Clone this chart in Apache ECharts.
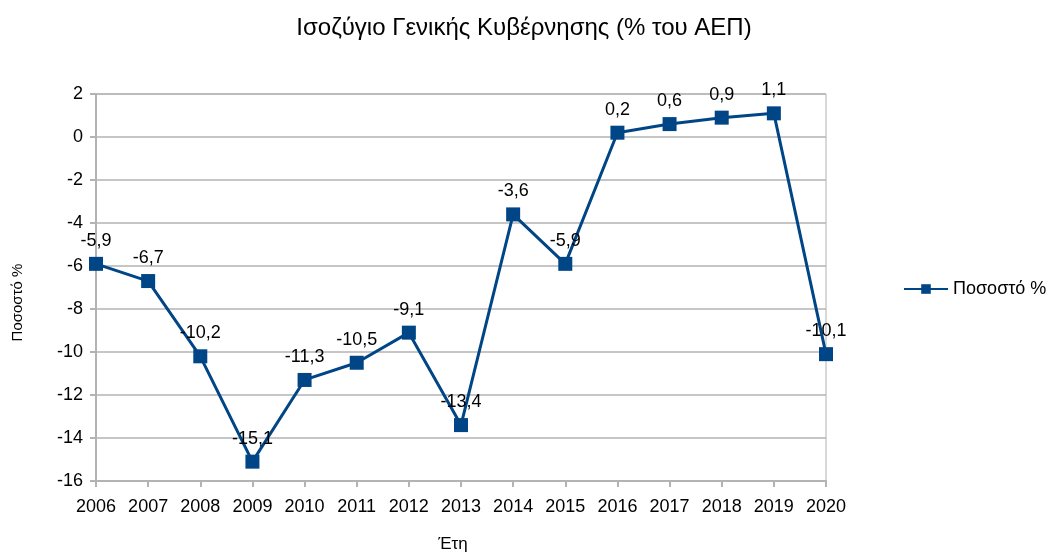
<!DOCTYPE html>
<html>
<head>
<meta charset="utf-8">
<script src="https://cdn.jsdelivr.net/npm/echarts@6/dist/echarts.min.js"></script>
<style>
  html, body { margin: 0; padding: 0; background: #fff; }
  #chart { width: 1050px; height: 556px; }
</style>
</head>
<body>
<div id="chart"></div>
<script>
var years = ['2006','2007','2008','2009','2010','2011','2012','2013','2014','2015','2016','2017','2018','2019','2020'];
var balance = [-5.9, -6.7, -10.2, -15.1, -11.3, -10.5, -9.1, -13.4, -3.6, -5.9, 0.2, 0.6, 0.9, 1.1, -10.1];
var seriesName = 'Ποσοστό %';

var font = '"Liberation Sans", Arial, sans-serif';
var gridColor = '#b3b3b3';

var myChart = echarts.init(document.getElementById('chart'));

myChart.setOption({
    animation: false,
    textStyle: { fontFamily: font },
    title: {
        text: 'Ισοζύγιο Γενικής Κυβέρνησης (% του ΑΕΠ)',
        left: 519,
        textAlign: 'center',
        top: 11,
        textStyle: { fontFamily: font, fontSize: 24, fontWeight: 'normal', color: '#000' }
    },
    legend: {
        data: [seriesName],
        left: 898,
        top: 275,
        itemWidth: 44,
        itemHeight: 12,
        itemGap: 6,
        textStyle: { fontFamily: font, fontSize: 18, color: '#000' }
    },
    grid: {
        left: 96,
        right: 224,
        top: 94,
        bottom: 75,
        outerBoundsMode: 'none',
        containLabel: false,
        show: true,
        borderColor: gridColor,
        borderWidth: 1
    },
    xAxis: {
        type: 'category',
        data: years,
        boundaryGap: false,
        name: 'Έτη',
        nameLocation: 'middle',
        nameGap: 55,
        nameTextStyle: { fontFamily: font, fontSize: 17, color: '#000', padding: [0, 16, 0, 0] },
        axisLine: { onZero: false, lineStyle: { color: gridColor, width: 2 } },
        axisTick: { show: true, length: 6, lineStyle: { color: gridColor, width: 2 } },
        axisLabel: { fontFamily: font, fontSize: 18, color: '#000', margin: 17 },
        splitLine: { show: false }
    },
    yAxis: {
        type: 'value',
        min: -16,
        max: 2,
        interval: 2,
        name: 'Ποσοστό %',
        nameLocation: 'middle',
        nameGap: 71,
        nameTextStyle: { fontFamily: font, fontSize: 15, color: '#000', padding: [0, 30, 0, 0] },
        axisLine: { show: true, lineStyle: { color: gridColor, width: 2 } },
        axisTick: { show: true, length: 6, lineStyle: { color: gridColor, width: 2 } },
        axisLabel: { fontFamily: font, fontSize: 18, color: '#000', margin: 13 },
        splitLine: { lineStyle: { color: gridColor, width: 1.5 } }
    },
    series: [
        {
            name: seriesName,
            type: 'line',
            data: balance,
            symbol: 'rect',
            symbolSize: 14,
            lineStyle: { color: '#004586', width: 3 },
            itemStyle: { color: '#004586' },
            label: {
                show: true,
                position: 'top',
                distance: 7,
                fontFamily: font,
                fontSize: 18,
                color: '#000',
                formatter: function (p) {
                    return String(p.value).replace('.', ',');
                }
            }
        }
    ]
});
</script>
</body>
</html>
